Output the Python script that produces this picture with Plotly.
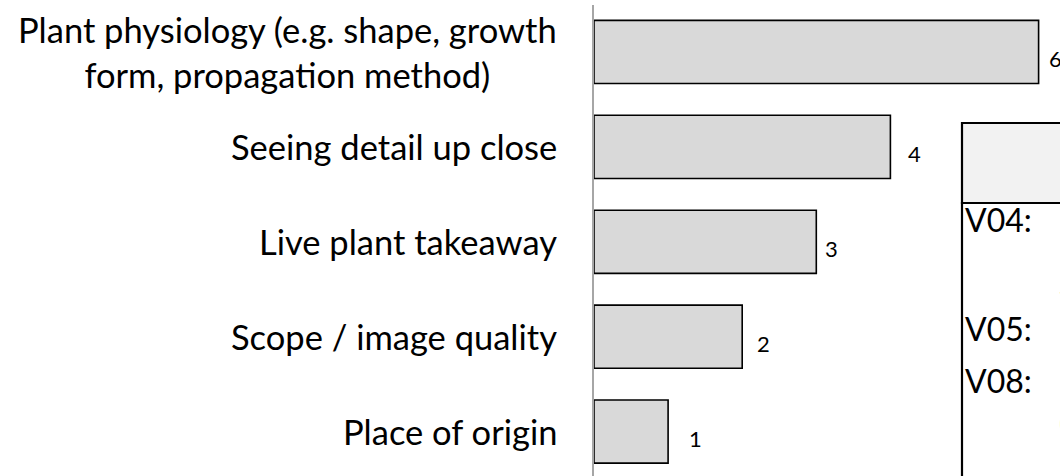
import plotly.graph_objects as go

categories = [
    "Plant physiology (e.g. shape, growth<br>form, propagation method)",
    "Seeing detail up close",
    "Live plant takeaway",
    "Scope / image quality",
    "Place of origin",
]
values = [6, 4, 3, 2, 1]
value_labels = [str(v) for v in values]
box_labels = ["V04:", "V05:", "V08:"]

# style / layout helpers
W, H = 1060, 476
ML, MT = 594, 5
label_xshift = [8, 16, 7, 13, 19]
box_label_py = [219, 328, 380]
partial_glyphs = [("S", 284), ("(", 422), (".", 466)]


def px_to_paper_x(px):
    return (px - ML) / (W - ML)


def py_to_paper_y(py):
    return (H - py) / (H - MT)


fig = go.Figure()
fig.add_trace(
    go.Bar(
        x=values,
        y=categories,
        orientation="h",
        marker=dict(color="#d9d9d9", line=dict(color="#000000", width=1.6)),
        hoverinfo="skip",
    )
)

annotations = []
for cat in categories:
    annotations.append(
        dict(
            x=0, xref="paper", y=cat, yref="y", xanchor="right", yanchor="middle",
            xshift=-35, text=cat, showarrow=False, align="center",
            font=dict(family="Lato", size=34.5, color="#000000"),
        )
    )
for cat, v, lab, sh in zip(categories, values, value_labels, label_xshift):
    annotations.append(
        dict(
            x=v, xref="x", y=cat, yref="y", xanchor="left", yanchor="middle",
            xshift=sh, yshift=-7, text=lab, showarrow=False,
            font=dict(family="Lato", size=22, color="#000000"),
        )
    )
for lab, py in zip(box_labels, box_label_py):
    annotations.append(
        dict(
            x=px_to_paper_x(963), xref="paper", y=py_to_paper_y(py), yref="paper",
            xanchor="left", yanchor="middle", text=lab, showarrow=False,
            font=dict(family="Lato", size=32, color="#000000"),
        )
    )
for g, py in partial_glyphs:
    annotations.append(
        dict(
            x=px_to_paper_x(1057), xref="paper", y=py_to_paper_y(py), yref="paper",
            xanchor="left", yanchor="middle", text=g, showarrow=False,
            font=dict(family="Lato", size=30, color="#000000"),
        )
    )

shapes = [
    # header of the side box
    dict(type="rect", xref="paper", yref="paper",
         x0=px_to_paper_x(962), x1=px_to_paper_x(1100),
         y0=py_to_paper_y(203), y1=py_to_paper_y(123),
         fillcolor="#f2f2f2", line=dict(color="#000000", width=2.2), layer="above"),
    # body of the side box
    dict(type="rect", xref="paper", yref="paper",
         x0=px_to_paper_x(962), x1=px_to_paper_x(1100),
         y0=py_to_paper_y(520), y1=py_to_paper_y(203),
         fillcolor="rgba(0,0,0,0)", line=dict(color="#000000", width=2.2), layer="above"),
]

fig.update_layout(
    width=W, height=H,
    margin=dict(l=ML, r=0, t=MT, b=0, pad=0),
    paper_bgcolor="white", plot_bgcolor="white",
    showlegend=False,
    bargap=0.335,
    annotations=annotations,
    shapes=shapes,
    xaxis=dict(visible=False, range=[0, (W - ML) / 74.1], fixedrange=True),
    yaxis=dict(
        type="category", categoryorder="array", categoryarray=categories,
        range=[4.468, -0.495], showticklabels=False, showgrid=False, zeroline=False,
        showline=True, linecolor="#a6a6a6", linewidth=2, ticks="", fixedrange=True,
    ),
)

fig.write_html(
    "out.html",
    config={"displayModeBar": False, "staticPlot": True},
    post_script="document.body.style.margin='0';document.body.style.overflow='hidden';",
)
